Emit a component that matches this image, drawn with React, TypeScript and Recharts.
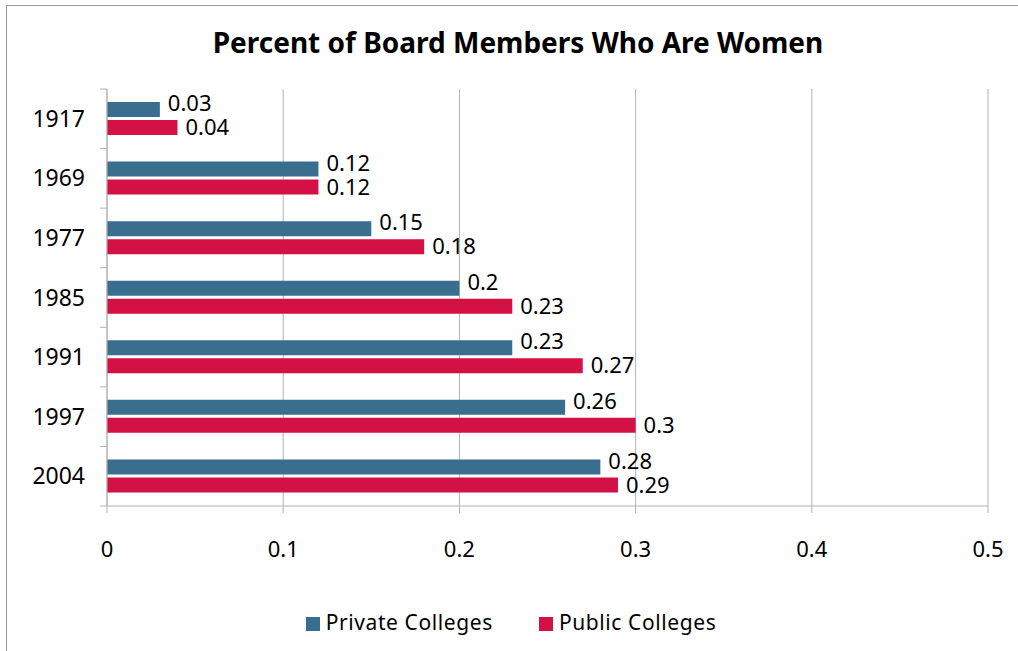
import React from 'react';
import {
  BarChart,
  Bar,
  XAxis,
  YAxis,
  CartesianGrid,
  Legend,
  LabelList,
} from 'recharts';

const years = ['1917', '1969', '1977', '1985', '1991', '1997', '2004'];
const privateColleges = [0.03, 0.12, 0.15, 0.2, 0.23, 0.26, 0.28];
const publicColleges = [0.04, 0.12, 0.18, 0.23, 0.27, 0.3, 0.29];
const xTicks = [0, 0.1, 0.2, 0.3, 0.4, 0.5];

const data = years.map((year, i) => ({
  year,
  private: privateColleges[i],
  public: publicColleges[i],
}));

const BLUE = '#3A6E8F';
const RED = '#D31145';
const GRID = '#b3b3b3';
const FONT = '"Noto Sans", "Open Sans", sans-serif';

// plot geometry used only for the boundary tick marks on the category axis
const PLOT_TOP = 89;
const PLOT_H = 417;
const BAND = PLOT_H / years.length;
const AXIS_X = 107;

const YearTick = (props: any) => {
  const { x, y, payload, index } = props;
  return (
    <g>
      <line x1={AXIS_X - 7} x2={AXIS_X} y1={y - BAND / 2} y2={y - BAND / 2} stroke={GRID} />
      {index === years.length - 1 && (
        <line x1={AXIS_X - 7} x2={AXIS_X} y1={y + BAND / 2} y2={y + BAND / 2} stroke={GRID} />
      )}
      <text x={x} y={y} dy="0.35em" textAnchor="end" fontSize={23} fill="#000" fontFamily={FONT}>
        {payload.value}
      </text>
    </g>
  );
};

// value label just past the bar end; the private labels sit a little higher, as in Excel
const valueLabel = (shift: number) => (p: any) => (
  <text
    x={p.x + p.width + 8}
    y={p.y + p.height / 2 + shift}
    dy="0.35em"
    fontSize={22}
    fill="#000"
    fontFamily={FONT}
  >
    {p.value}
  </text>
);

export default function App() {
  return (
    <div style={{ position: 'absolute', left: 0, top: 0, width: 1018, height: 651, overflow: 'hidden', background: '#fff' }}>
      <div
        style={{
          position: 'absolute',
          left: 6,
          top: 5,
          width: 1030,
          height: 670,
          border: '1px solid #9a9a9a',
          boxSizing: 'border-box',
        }}
      />
      <div
        style={{
          position: 'absolute',
          left: 0,
          width: 1036,
          top: 23,
          textAlign: 'center',
          fontFamily: FONT,
          fontWeight: 700,
          fontSize: 28,
          color: '#000',
        }}
      >
        Percent of Board Members Who Are Women
      </div>
      <div style={{ position: 'absolute', left: 0, top: 0 }}>
        <BarChart
          width={1018}
          height={651}
          data={data}
          layout="vertical"
          margin={{ top: PLOT_TOP, right: 30, left: 0, bottom: 3 }}
          barSize={15}
          barGap={3}
        >
          <CartesianGrid horizontal={false} stroke={GRID} />
          <XAxis
            type="number"
            domain={[0, 0.5]}
            ticks={xTicks}
            height={94}
            stroke={GRID}
            tickSize={7}
            tickMargin={28}
            tick={{ fill: '#000', fontSize: 22, fontFamily: FONT }}
          />
          <YAxis
            type="category"
            dataKey="year"
            width={AXIS_X}
            stroke={GRID}
            tickLine={false}
            tickSize={7}
            tickMargin={15}
            tick={<YearTick />}
          />
          <Legend
            verticalAlign="bottom"
            height={40}
            iconType="square"
            iconSize={14}
            wrapperStyle={{ fontFamily: FONT, fontSize: 21, paddingLeft: 40, paddingTop: 8, bottom: 3 }}
            formatter={(value: string) => (
              <span style={{ color: '#000', marginRight: 36, marginLeft: 2, letterSpacing: 0.6 }}>{value}</span>
            )}
          />
          <Bar dataKey="private" name="Private Colleges" fill={BLUE} isAnimationActive={false}>
            <LabelList dataKey="private" content={valueLabel(-6)} />
          </Bar>
          <Bar dataKey="public" name="Public Colleges" fill={RED} isAnimationActive={false}>
            <LabelList dataKey="public" content={valueLabel(0)} />
          </Bar>
        </BarChart>
      </div>
    </div>
  );
}
